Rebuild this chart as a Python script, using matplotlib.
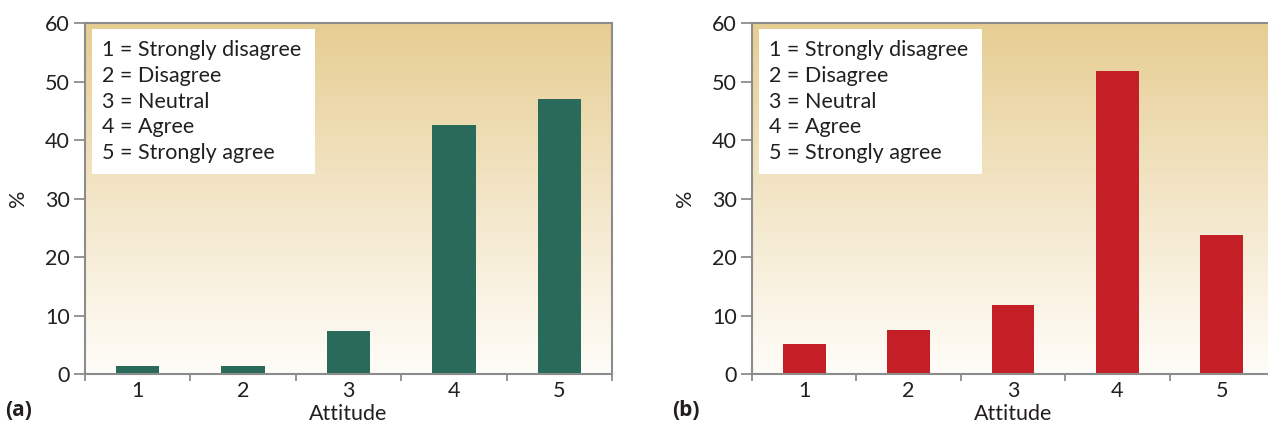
import matplotlib
matplotlib.use("Agg")
import matplotlib.pyplot as plt
import numpy as np
from matplotlib.colors import LinearSegmentedColormap
from matplotlib.patches import Rectangle

# Attitude survey: percentage of respondents per answer, two groups
attitudes = [1, 2, 3, 4, 5]
pct_a = [1.4, 1.4, 7.4, 42.5, 47.0]
pct_b = [5.1, 7.5, 11.8, 51.8, 23.8]
key_lines = ["1 = Strongly disagree", "2 = Disagree", "3 = Neutral",
             "4 = Agree", "5 = Strongly agree"]
panel_tags = ["(a)", "(b)"]

plt.rcParams["font.family"] = ["Lato", "DejaVu Sans"]
TXT = "#231f20"
SPINE = "#8c8c8c"
FS = 15.5
bg_cmap = LinearSegmentedColormap.from_list("tan", ["#fffdf9", "#f3e6c8", "#e6cd92"])

W, H = 1268, 428
fig = plt.figure(figsize=(W / 100, H / 100), dpi=100)

def px_axes(x0, x1, ytop, ybot):
    return fig.add_axes([x0 / W, 1 - ybot / H, (x1 - x0) / W, (ybot - ytop) / H])

ax_a = px_axes(85, 612, 23, 374)
ax_b = px_axes(752, 1274, 23, 374)

for ax, vals, color, tag in [(ax_a, pct_a, "#296a5a", panel_tags[0]),
                             (ax_b, pct_b, "#c41f27", panel_tags[1])]:
    # vertical tan-to-white gradient background
    grad = np.linspace(0, 1, 256).reshape(-1, 1)
    ax.imshow(grad, extent=[0, 1, 0, 1], transform=ax.transAxes, origin="lower",
              aspect="auto", cmap=bg_cmap, zorder=0)
    ax.bar(attitudes, vals, width=0.41, color=color, zorder=2)

    ax.set_xlim(0.5, 5.5)
    ax.set_ylim(0, 60)
    ax.set_yticks(np.arange(0, 61, 10))
    ax.set_xticks(attitudes)
    ax.set_xticks(np.arange(0.5, 5.6, 1), minor=True)
    ax.tick_params(axis="x", which="major", length=0, labelsize=FS, colors=TXT, pad=5)
    ax.tick_params(axis="x", which="minor", length=5, width=1.3, color=SPINE)
    ax.tick_params(axis="y", length=8, width=1.3, color=SPINE, labelsize=FS,
                   labelcolor=TXT, pad=3)
    for s in ax.spines.values():
        s.set_color(SPINE)
        s.set_linewidth(1.5)
    ax.set_xlabel("Attitude", fontsize=FS, color=TXT, labelpad=2)
    ax.set_ylabel("%", fontsize=FS, color=TXT, labelpad=12)

    # white key box with the scale meaning
    bw, bh = ax.bbox.width, ax.bbox.height
    ax.add_patch(Rectangle((7 / bw, 1 - 151 / bh), 223 / bw, 145 / bh,
                           transform=ax.transAxes, facecolor="white",
                           edgecolor="none", zorder=3))
    for i, line in enumerate(key_lines):
        ax.text(17 / bw, 1 - (27 + 25.8 * i) / bh, line, transform=ax.transAxes,
                ha="left", va="center", fontsize=FS, color=TXT, zorder=4)

    x0 = ax.get_position().x0
    fig.text(x0 - 80 / W, 1 - 410 / H, tag, ha="left", va="center",
             fontsize=15, fontweight="bold", color=TXT,
             family=["Open Sans", "DejaVu Sans"])

fig.savefig("out.png", dpi=100, facecolor="white")
